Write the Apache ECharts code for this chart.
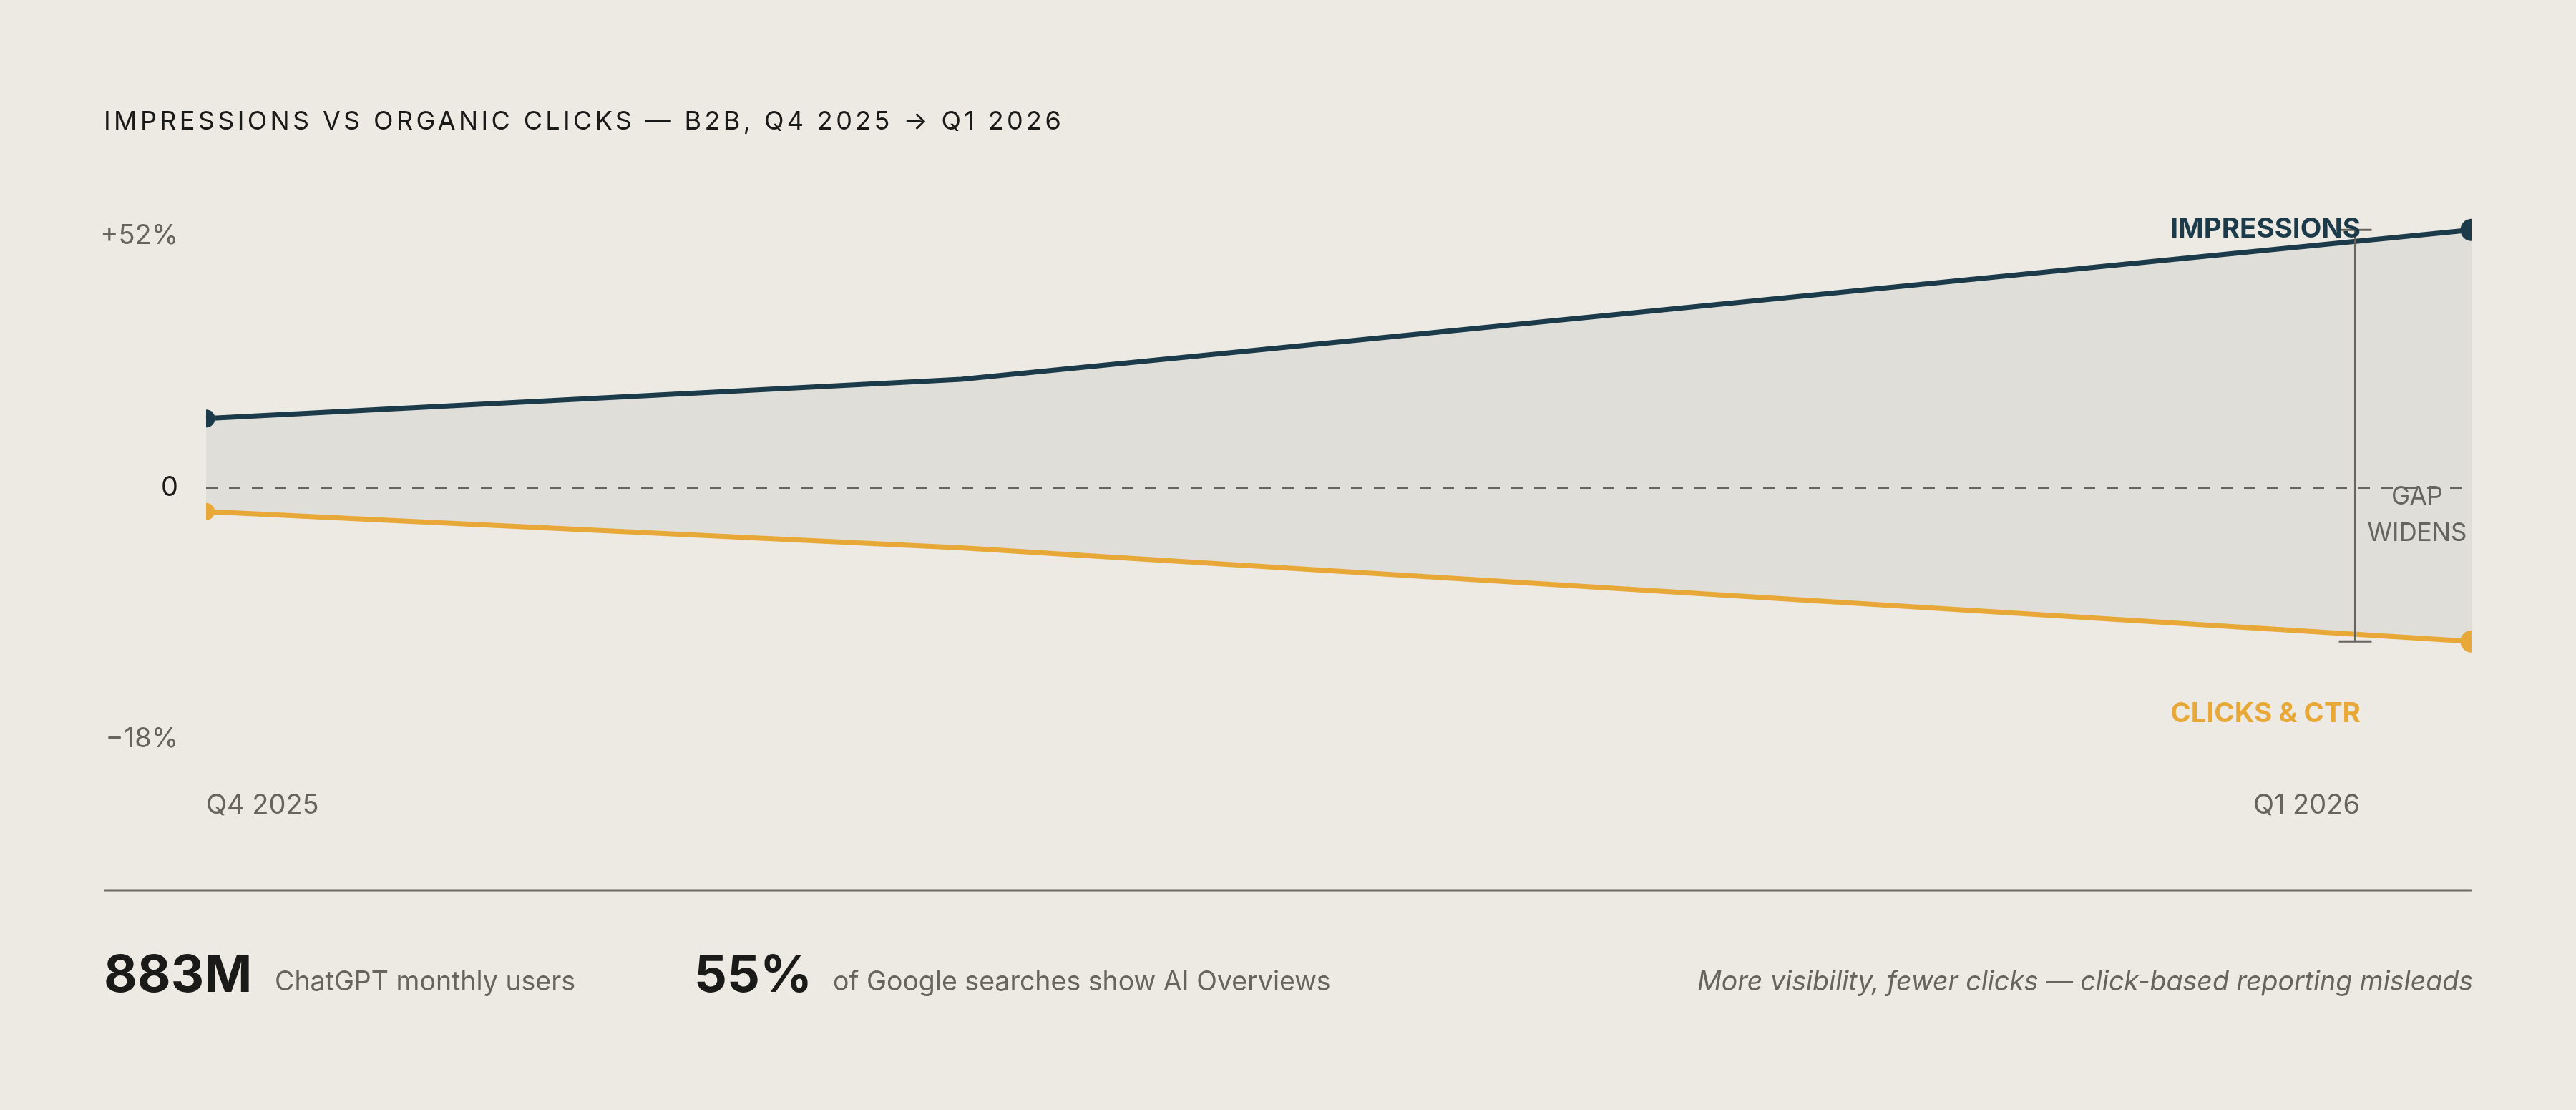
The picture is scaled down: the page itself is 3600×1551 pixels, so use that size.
<!DOCTYPE html>
<html>
<head>
    <meta charset="utf-8">
    <title>Impressions vs organic clicks</title>
    <style>
        html, body { margin: 0; padding: 0; background: #edeae3; }
        #wrap { position: relative; width: 3600px; height: 1551px; }
        #container { width: 3600px; height: 1551px; }
        #title {
            position: absolute;
            left: 145px;
            top: 150px;
            font-family: Inter, sans-serif;
            font-size: 36px;
            line-height: 36px;
            font-weight: 400;
            letter-spacing: 4.35px;
            color: #1a1a18;
            white-space: nowrap;
        }
    </style>
</head>
<body>
<div id="wrap">
    <div id="container"></div>
    <div id="title">IMPRESSIONS VS ORGANIC CLICKS — B2B, Q4 2025 → Q1 2026</div>
</div>
<script src="https://cdn.jsdelivr.net/npm/echarts@6/dist/echarts.min.js"></script>
<script type="text/javascript">
    // position along the period: 0 = Q4 2025 ... 3 = Q1 2026
    var periods = [0, 1, 3];
    // % change, impressions read on the upper scale (0 .. +52%)
    var impressions = [14.3, 22.4, 53.3];
    // % change, clicks & CTR read on the lower scale (0 .. -18%)
    var clicks = [-1.7, -4.3, -11.0];

    var xTicks = [0, 3];
    var xTickLabels = ['Q4 2025', 'Q1 2026'];
    var impTicks = [52, 0];
    var impTickLabels = ['+52%', '0'];
    var clickTicks = [-18];
    var clickTickLabels = ['\u221218%'];

    var statValues = ['883M', '55%'];
    var statNotes = ['ChatGPT monthly users', 'of Google searches show AI Overviews'];
    var footNote = 'More visibility, fewer clicks \u2014 click-based reporting misleads';

    var NAVY = '#1b3a4a';
    var ORANGE = '#e8a838';
    var GREY = '#66645e';
    var INK = '#1a1a18';
    var FILL = '#dfded9';
    var FONT = 'Inter';

    var impMax = 52, clickMax = 18;

    // half dots, cut by the plot edges
    var rightHalf = 'path://M0,0 A1,1 0 0 1 0,2 Z';
    var leftHalf = 'path://M1,0 A1,1 0 0 0 1,2 Z';

    function lineData(values, startSize, endSize) {
        return values.map(function (v, i) {
            var item = { value: [periods[i], v] };
            if (i === 0) {
                item.symbol = rightHalf;
                item.symbolSize = [startSize / 2, startSize];
                item.symbolOffset = ['50%', 0];
            } else if (i === values.length - 1) {
                item.symbol = leftHalf;
                item.symbolSize = [endSize / 2, endSize];
                item.symbolOffset = ['-50%', 0];
            } else {
                item.symbol = 'none';
            }
            return item;
        });
    }

    function lookup(ticks, labels) {
        return function (v) {
            var i = ticks.indexOf(+v);
            return i < 0 ? '' : labels[i];
        };
    }

    var dom = document.getElementById('container');
    var myChart = echarts.init(dom);

    var axisLabelBase = { fontFamily: FONT, fontSize: 38, color: GREY };

    var option = {
        backgroundColor: '#edeae3',
        animation: false,
        grid: { left: 288, right: 146, top: 330, bottom: 518 },
        xAxis: {
            type: 'value',
            min: 0,
            max: 3,
            interval: 3,
            axisLine: { show: false, onZero: false },
            axisTick: { show: false },
            splitLine: { show: false },
            axisLabel: Object.assign({}, axisLabelBase, {
                margin: 93,
                verticalAlign: 'middle',
                alignMinLabel: 'left',
                alignMaxLabel: 'right',
                formatter: function (v) {
                    var t = lookup(xTicks, xTickLabels)(v);
                    return v === 3 ? '{q|' + t + '}' : t;
                },
                rich: { q: { fontFamily: FONT, fontSize: 38, color: GREY, padding: [0, 156, 0, 0] } }
            })
        },
        yAxis: [{
            type: 'value',
            min: -impMax,
            max: impMax,
            interval: impMax,
            position: 'left',
            axisLine: { show: false },
            axisTick: { show: false },
            splitLine: { show: false },
            axisLabel: Object.assign({}, axisLabelBase, {
                margin: 39,
                formatter: lookup(impTicks, impTickLabels),
                color: function (v) { return +v === 0 ? INK : GREY; }
            })
        }, {
            type: 'value',
            min: -clickMax,
            max: clickMax,
            interval: clickMax,
            position: 'left',
            axisLine: { show: false },
            axisTick: { show: false },
            splitLine: { show: false },
            axisLabel: Object.assign({}, axisLabelBase, {
                margin: 39,
                formatter: lookup(clickTicks, clickTickLabels)
            })
        }],
        series: [{
            name: 'Impressions',
            type: 'line',
            yAxisIndex: 0,
            clip: false,
            z: 3,
            data: lineData(impressions, 25, 31),
            itemStyle: { color: NAVY },
            lineStyle: { color: NAVY, width: 7 },
            areaStyle: { color: FILL, opacity: 1 },
            markLine: {
                silent: true,
                symbol: ['none', 'none'],
                label: { show: false },
                lineStyle: { color: GREY, width: 3, type: [16, 16] },
                data: [{ yAxis: 0 }]
            },
            markPoint: {
                silent: true,
                symbol: 'circle',
                symbolSize: 0,
                data: [{
                    coord: [2.853, impMax],
                    label: {
                        show: true, position: 'inside', align: 'right', offset: [0, -10],
                        formatter: 'IMPRESSIONS',
                        fontFamily: FONT, fontSize: 38.5, fontWeight: 700, color: NAVY
                    }
                }, {
                    coord: [2.928, -5.75],
                    label: {
                        show: true, position: 'inside', align: 'center',
                        formatter: 'GAP\nWIDENS', lineHeight: 51,
                        fontFamily: FONT, fontSize: 35, fontWeight: 400, color: GREY
                    }
                }]
            }
        }, {
            name: 'Clicks & CTR',
            type: 'line',
            yAxisIndex: 1,
            clip: false,
            z: 3,
            data: lineData(clicks, 24, 31),
            itemStyle: { color: ORANGE },
            lineStyle: { color: ORANGE, width: 7 },
            areaStyle: { color: FILL, opacity: 1 },
            markPoint: {
                silent: true,
                symbol: 'circle',
                symbolSize: 0,
                data: [{
                    coord: [2.853, -16.2],
                    label: {
                        show: true, position: 'inside', align: 'right',
                        formatter: 'CLICKS & CTR',
                        fontFamily: FONT, fontSize: 38.5, fontWeight: 700, color: ORANGE
                    }
                }]
            }
        }, {
            // gap bracket between the two end values
            name: 'gap',
            type: 'custom',
            yAxisIndex: 0,
            z: 4,
            silent: true,
            clip: false,
            data: [[2.846, impressions[impressions.length - 1], clicks[clicks.length - 1] * impMax / clickMax]],
            renderItem: function (params, api) {
                var top = api.coord([api.value(0), api.value(1)]);
                var bot = api.coord([api.value(0), api.value(2)]);
                var style = { stroke: GREY, lineWidth: 3 };
                return {
                    type: 'group',
                    children: [
                        { type: 'line', shape: { x1: top[0], y1: top[1], x2: bot[0], y2: bot[1] }, style: style },
                        { type: 'line', shape: { x1: top[0] - 23, y1: top[1], x2: top[0] + 23, y2: top[1] }, style: style },
                        { type: 'line', shape: { x1: bot[0] - 23, y1: bot[1], x2: bot[0] + 23, y2: bot[1] }, style: style }
                    ]
                };
            }
        }],
        graphic: [
            { type: 'line', shape: { x1: 145, y1: 1244, x2: 3455, y2: 1244 }, style: { stroke: '#6b6a64', lineWidth: 3 } },
            { type: 'text', x: 145, y: 1364, style: { text: statValues[0], font: '700 72px Inter', fill: INK, verticalAlign: 'middle' } },
            { type: 'text', x: 384, y: 1373, style: { text: statNotes[0], font: '400 37.5px Inter', fill: GREY, verticalAlign: 'middle' } },
            { type: 'text', x: 970, y: 1364, style: { text: statValues[1], font: '700 72px Inter', fill: INK, verticalAlign: 'middle' } },
            { type: 'text', x: 1164, y: 1373, style: { text: statNotes[1], font: '400 37.5px Inter', fill: GREY, verticalAlign: 'middle' } },
            { type: 'text', x: 3456, y: 1373, style: { text: footNote, font: 'italic 400 37.5px Inter', fill: GREY, align: 'right', verticalAlign: 'middle' } }
        ]
    };

    if (option && typeof option === 'object') {
        myChart.setOption(option, true);
    }
</script>
</body>
</html>
